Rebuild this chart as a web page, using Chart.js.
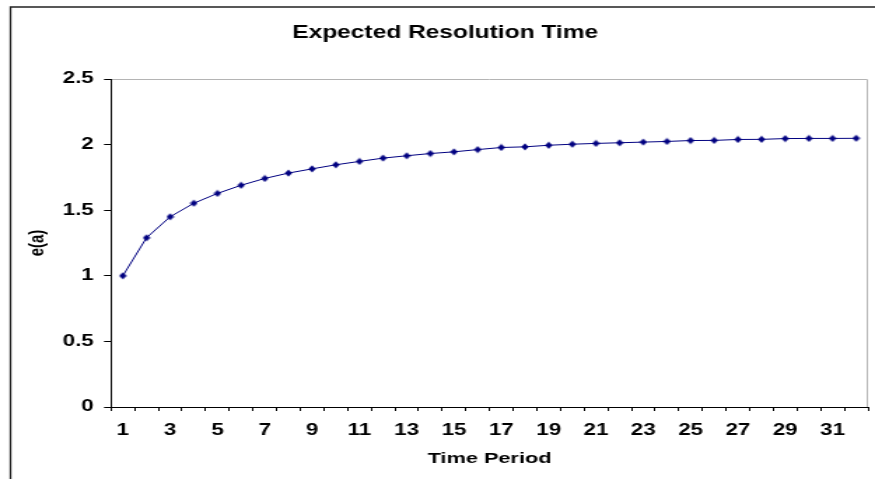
<!DOCTYPE html>
<html>
<head>
<meta charset="utf-8">
<script src="https://cdn.jsdelivr.net/npm/chart.js@4.4.1/dist/chart.umd.min.js"></script>
<style>
  body { margin: 0; background: #fff; }
  #wrap { width: 875px; height: 479px; overflow: hidden; }
</style>
</head>
<body>
<div id="wrap">
  <!-- the original picture is stretched sideways, so the canvas is drawn narrow and widened by css -->
  <canvas id="chart" width="625" height="479" style="width:875px;height:479px;display:block"></canvas>
</div>
<script>
// time periods on the x axis
const periods = ['1', '2', '3', '4', '5', '6', '7', '8', '9', '10', '11', '12', '13', '14', '15', '16',
                 '17', '18', '19', '20', '21', '22', '23', '24', '25', '26', '27', '28', '29', '30', '31', '32'];

// expected resolution time e(a)
const expected = [1.00, 1.29, 1.45, 1.553, 1.628, 1.69, 1.742, 1.783, 1.815, 1.846, 1.872, 1.897,
                  1.915, 1.932, 1.945, 1.962, 1.978, 1.983, 1.995, 2.003, 2.009, 2.014, 2.019, 2.024,
                  2.031, 2.032, 2.039, 2.04, 2.046, 2.047, 2.047, 2.048];

// y axis ticks
const yTicks = [0, 0.5, 1, 1.5, 2, 2.5];

const font = "'Liberation Sans', Arial, sans-serif";
const navy = '#000080';

// diamond marker, a bit narrower than tall so that it looks even after the stretch
const marker = document.createElement('canvas');
marker.width = 6;
marker.height = 8;
const m = marker.getContext('2d');
m.fillStyle = navy;
m.beginPath();
m.moveTo(3, 0.4);
m.lineTo(5.7, 4);
m.lineTo(3, 7.6);
m.lineTo(0.3, 4);
m.closePath();
m.fill();

// outer chart frame and the grey top / right edge of the plot area
const frame = {
  id: 'frame',
  beforeDraw(chart) {
    const { ctx, chartArea: a } = chart;
    ctx.save();
    ctx.strokeStyle = '#222';
    ctx.lineWidth = 1.3;
    ctx.beginPath();
    ctx.moveTo(7.5, chart.height);
    ctx.lineTo(7.5, 7);
    ctx.lineTo(chart.width, 7);
    ctx.stroke();
    ctx.strokeStyle = '#b4b4b4';
    ctx.lineWidth = 1;
    ctx.beginPath();
    ctx.moveTo(a.left, a.top + 0.5);
    ctx.lineTo(a.right - 0.5, a.top + 0.5);
    ctx.lineTo(a.right - 0.5, a.bottom);
    ctx.stroke();
    ctx.restore();
  }
};

const ctx = document.getElementById('chart').getContext('2d');
new Chart(ctx, {
  type: 'line',
  data: {
    labels: periods,
    datasets: [{
      data: expected,
      borderColor: navy,
      borderWidth: 1,
      tension: 0,
      pointStyle: marker,
      pointRadius: 3,
      pointBackgroundColor: navy,
      pointBorderColor: navy
    }]
  },
  options: {
    responsive: false,
    animation: false,
    devicePixelRatio: 1,
    events: [],
    layout: { padding: { left: 12, right: 1, top: 0, bottom: 0 } },
    plugins: {
      legend: { display: false },
      tooltip: { enabled: false },
      title: {
        display: true,
        text: 'Expected Resolution Time',
        color: '#000',
        font: { family: font, size: 17.5, weight: 'bold' },
        padding: { top: 23, bottom: 35 }
      }
    },
    scales: {
      x: {
        offset: true,
        afterFit: s => { s.height = 72; s.paddingLeft = 0; s.paddingRight = 0; },
        grid: { offset: true, drawOnChartArea: false, tickLength: 4, color: '#000' },
        border: { color: '#000', width: 1 },
        ticks: {
          autoSkip: false,
          maxRotation: 0,
          padding: 10,
          color: '#000',
          font: { family: font, size: 16, weight: 'bold' },
          callback: (v, i) => (i % 2 === 0 ? periods[i] : '')
        },
        title: {
          display: true,
          text: 'Time Period',
          color: '#000',
          font: { family: font, size: 15.5, weight: 'bold' },
          padding: { top: 0, bottom: 11 }
        }
      },
      y: {
        min: yTicks[0],
        max: yTicks[yTicks.length - 1],
        afterFit: s => { s.width = 67.3; },
        afterBuildTicks: s => { s.ticks = yTicks.map(v => ({ value: v })); },
        grid: { drawOnChartArea: false, tickLength: 5, color: '#000' },
        border: { color: '#000', width: 1 },
        ticks: {
          padding: 7.3,
          color: '#000',
          font: { family: font, size: 16, weight: 'bold' },
          callback: v => String(v)
        },
        title: {
          display: true,
          text: 'e(a)',
          color: '#000',
          font: { family: font, size: 15, weight: 'bold' },
          padding: { top: 6, bottom: 0 }
        }
      }
    }
  },
  plugins: [frame]
});
</script>
</body>
</html>
